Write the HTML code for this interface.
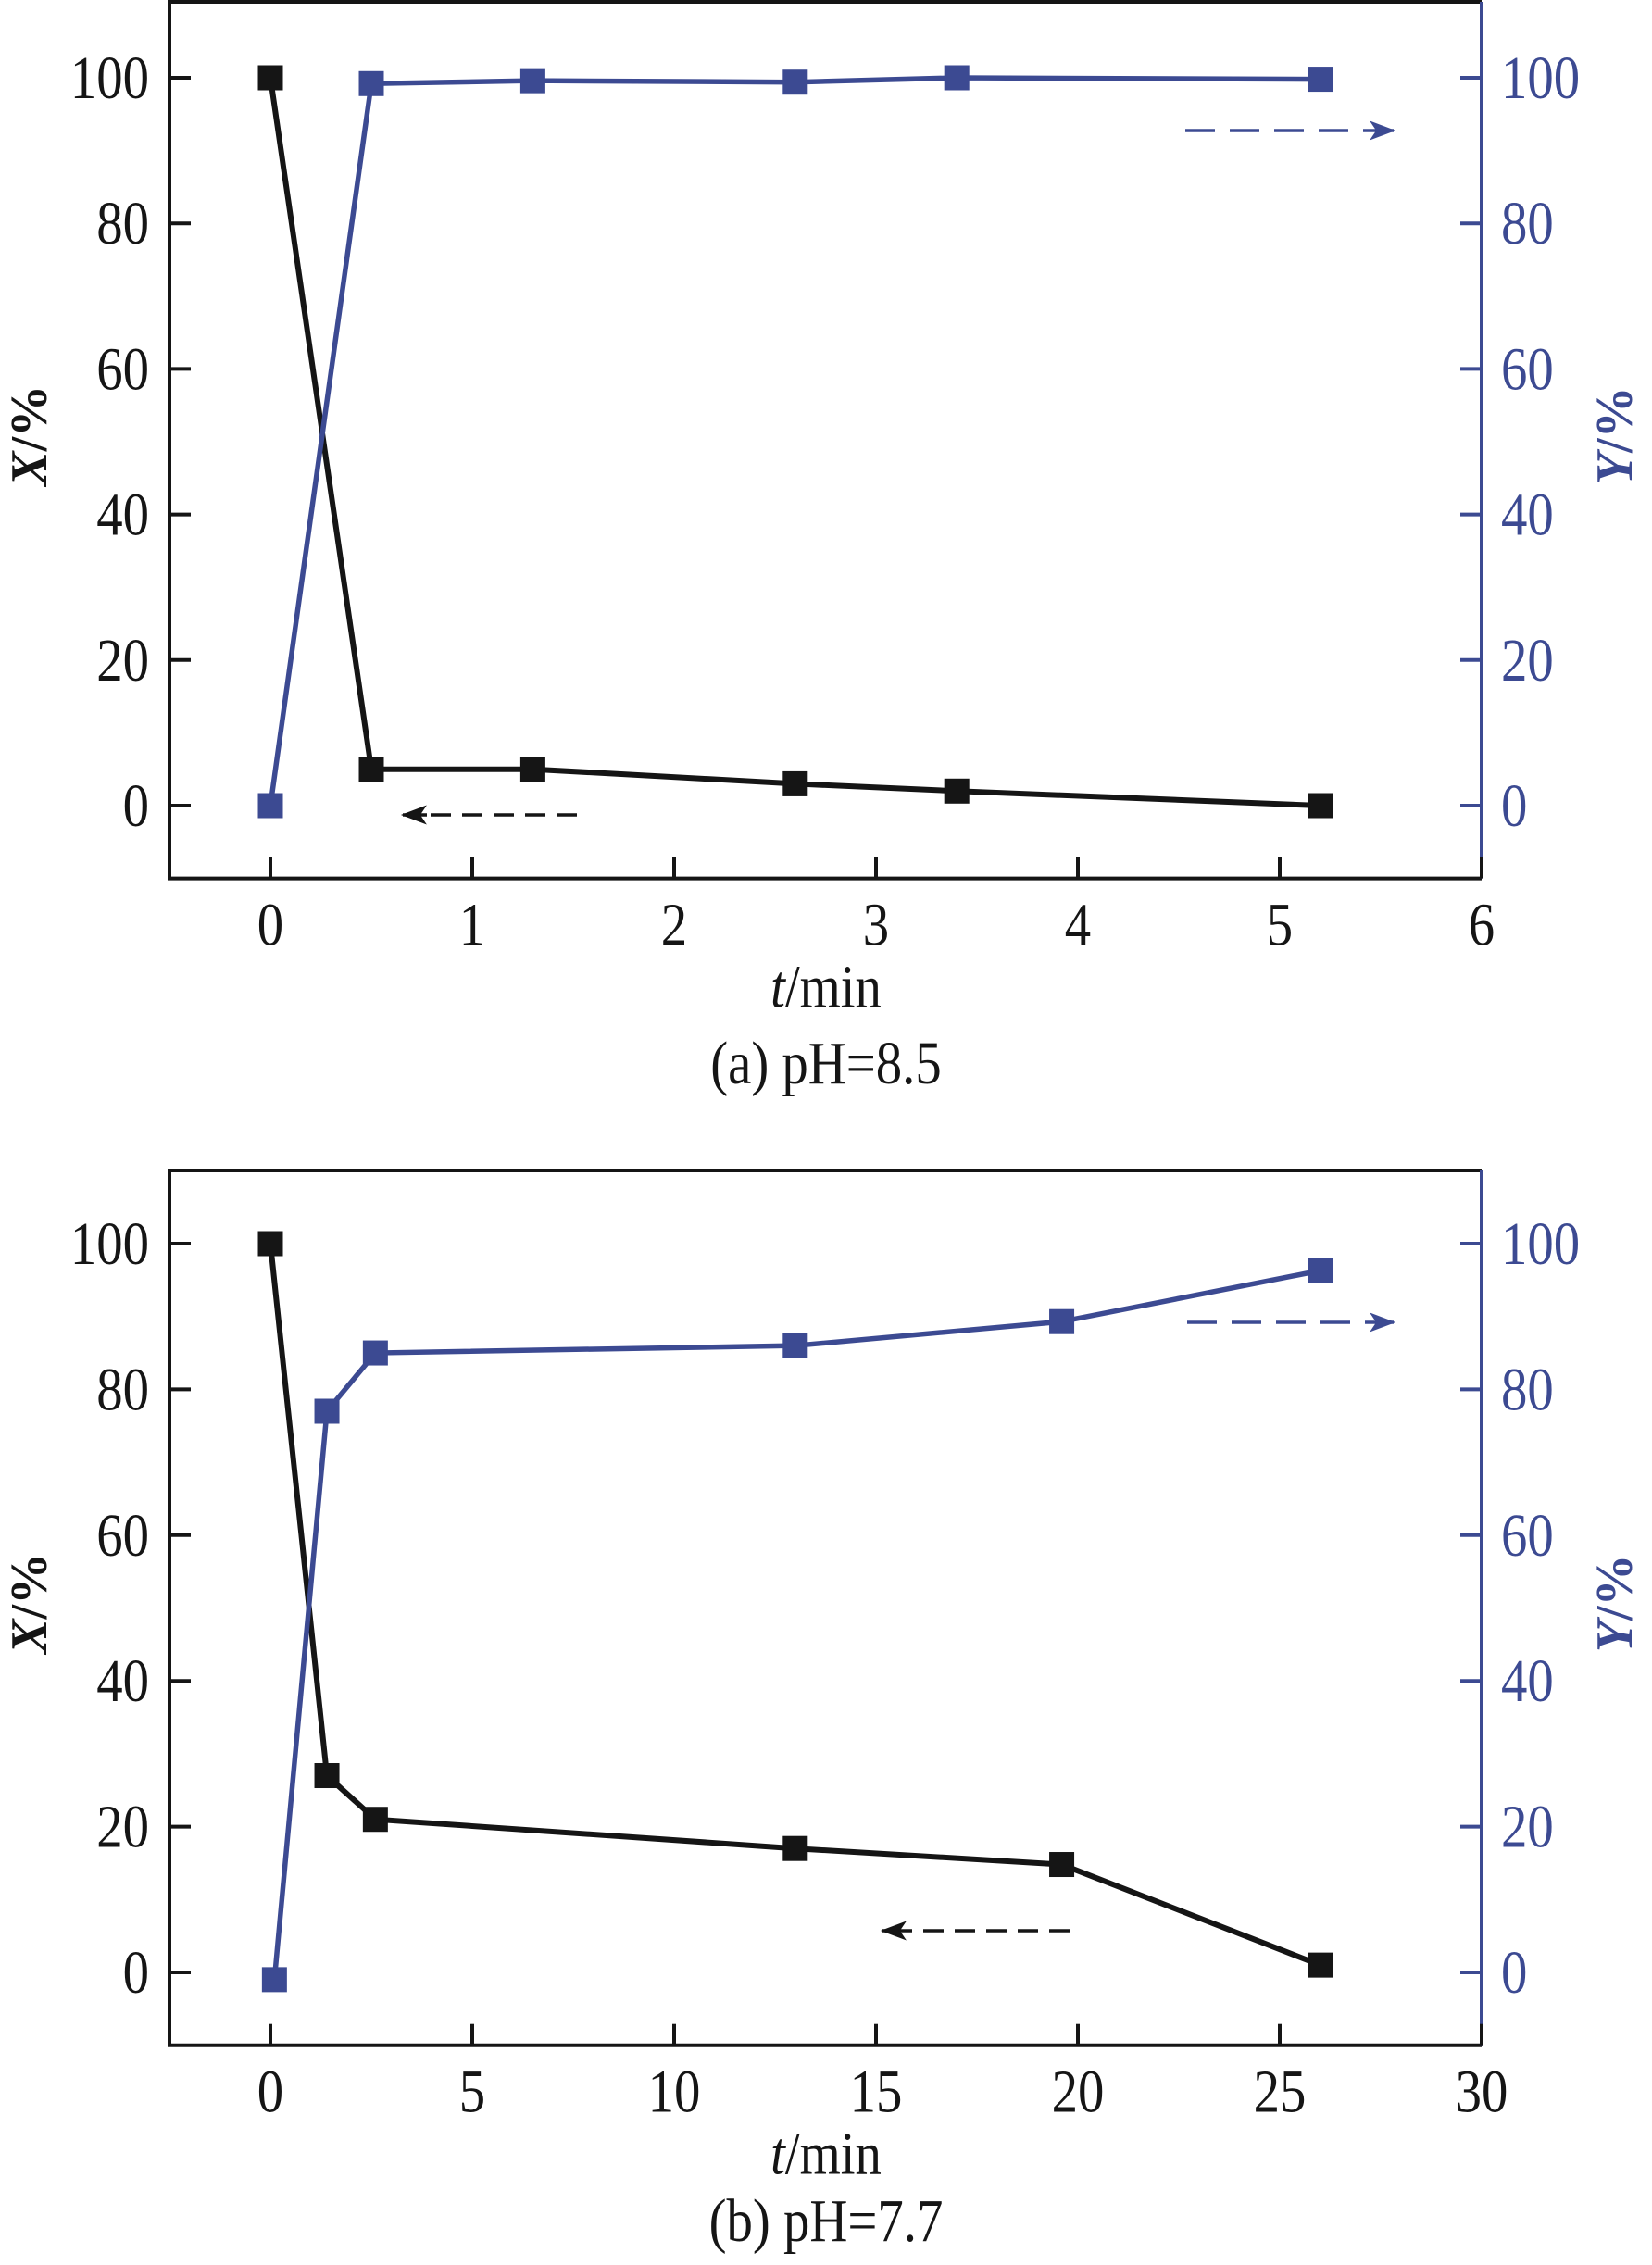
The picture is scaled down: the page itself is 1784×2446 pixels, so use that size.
<!DOCTYPE html>
<html><head><meta charset="utf-8">
<style>
html,body{margin:0;padding:0;background:#fff;}
svg{display:block;font-family:"Liberation Serif",serif;}
</style></head>
<body>
<svg id="chart" width="1784" height="2446" viewBox="0 0 1784 2446" xmlns="http://www.w3.org/2000/svg">
</svg>
<script>
// ---- data panel (a) ----
const tA = [0, 0.5, 1.3, 2.6, 3.4, 5.2];
const xA = [100, 5, 5, 3, 2, 0];
const tAy = [0, 0.5, 1.3, 2.6, 3.4, 5.2];
const yA = [0, 99.2, 99.6, 99.4, 100, 99.8];
const xTicksA = [0, 1, 2, 3, 4, 5, 6];
// ---- data panel (b) ----
const tB = [0, 1.4, 2.6, 13, 19.6, 26];
const xB = [100, 27, 21, 17, 14.8, 1];
const tBy = [0.1, 1.4, 2.6, 13, 19.6, 26];
const yB = [-1, 77, 85, 86, 89.3, 96.3];
const xTicksB = [0, 5, 10, 15, 20, 25, 30];
const yTicks = [0, 20, 40, 60, 80, 100];

const NS = "http://www.w3.org/2000/svg";
const svg = document.getElementById('chart');
const BLUE = "#3c4a92", BLK = "#151515";
function el(tag, attrs, parent) {
  const e = document.createElementNS(NS, tag);
  for (const k in attrs) e.setAttribute(k, attrs[k]);
  (parent || svg).appendChild(e);
  return e;
}
const FS = 66, SX = 0.86;
function sxT(x) { return `matrix(${SX},0,0,1,${x*(1-SX)},0)`; }

function arrow(g, x1, x2, y, color, dash) {
  const dir = x2 > x1 ? 1 : -1;
  const head = 26;
  el('line', {x1: x1, y1: y, x2: x2 - dir * head, y2: y, stroke: color, 'stroke-width': 3.5, 'stroke-dasharray': dash}, g);
  el('line', {x1: x2 - dir * head, y1: y, x2: x2, y2: y, stroke: color, 'stroke-width': 3.5}, g);
  el('path', {d: `M${x2 - dir*24},${y-9} L${x2},${y} L${x2 - dir*24},${y+9} L${x2 - dir*18},${y} Z`, fill: color, stroke: color, 'stroke-width': 1.5}, g);
}

function panel(cfg) {
  const g = el('g', {});
  
  
  const L = 183, R = 1600;
  const x0px = 292;
  const sx = v => x0px + (v / cfg.xmax) * (R - x0px);
  const sy = v => cfg.y0 - v * cfg.ky;
  const T = cfg.top, B = sy(-10);
  let ln = el('path', {d: `M${R},${T} L${L},${T} L${L},${B} L${R},${B}`, fill: 'none', stroke: BLK, 'stroke-width': 4}, g);
  
  
  ln = el('line', {x1: R, y1: T, x2: R, y2: B, stroke: BLUE, 'stroke-width': 4}, g);
  
  
  yTicks.forEach(v => {
    const y = sy(v);
    el('line', {x1: L, y1: y, x2: L + 23, y2: y, stroke: BLK, 'stroke-width': 4}, g);
    el('line', {x1: R, y1: y, x2: R - 23, y2: y, stroke: BLUE, 'stroke-width': 4}, g);
    const t1 = el('text', {x: 161, y: y + 22, 'font-size': FS, 'text-anchor': 'end', fill: BLK}, g);
    t1.setAttribute('transform', sxT(161));
    t1.textContent = v;
    
    
    const t2 = el('text', {x: 1621, y: y + 22, 'font-size': FS, 'text-anchor': 'start', fill: BLUE}, g);
    t2.setAttribute('transform', sxT(1621));
    t2.textContent = v;
    
    
  });
  cfg.xticks.forEach(v => {
    const x = sx(v);
    el('line', {x1: x, y1: B, x2: x, y2: B - 23, stroke: BLK, 'stroke-width': 4}, g);
    const t = el('text', {x: x, y: B + 72, 'font-size': FS, 'text-anchor': 'middle', fill: BLK}, g);
    t.setAttribute('transform', sxT(x));
    t.textContent = v;
    
    
  });
  let d = cfg.t.map((v, i) => (i ? 'L' : 'M') + sx(v) + ',' + sy(cfg.x[i])).join(' ');
  ln = el('path', {d, fill: 'none', stroke: BLK, 'stroke-width': 6}, g);
  
  
  d = cfg.ty.map((v, i) => (i ? 'L' : 'M') + sx(v) + ',' + sy(cfg.y[i])).join(' ');
  ln = el('path', {d, fill: 'none', stroke: BLUE, 'stroke-width': 5.5}, g);
  
  
  cfg.t.forEach((v, i) => {
    const r = el('rect', {x: sx(v) - 13.5, y: sy(cfg.x[i]) - 13.5, width: 27, height: 27, fill: BLK}, g);
    
    
  });
  cfg.ty.forEach((v, i) => {
    const r = el('rect', {x: sx(v) - 13.5, y: sy(cfg.y[i]) - 13.5, width: 27, height: 27, fill: BLUE}, g);
    
    
  });
  let ag = el('g', {}, g);
  
  
  arrow(ag, cfg.bArrow[0], cfg.bArrow[1], cfg.bArrow[2], BLK, '22,12');
  ag = el('g', {}, g);
  
  
  arrow(ag, cfg.uArrow[0], cfg.uArrow[1], cfg.uArrow[2], BLUE, '32,16');
  const mid = (T + B) / 2 - 5;
  let t = el('text', {x: 0, y: 0, 'font-size': 56, 'text-anchor': 'middle', fill: BLK, 'font-weight': 'bold', transform: `translate(50,${mid}) rotate(-90)`}, g);
  t.innerHTML = '<tspan font-style="italic">X</tspan>/%';
  
  
  t = el('text', {x: 0, y: 0, 'font-size': 56, 'text-anchor': 'middle', fill: BLUE, 'font-weight': 'bold', transform: `translate(1762,${mid}) rotate(-90)`}, g);
  t.innerHTML = '<tspan font-style="italic">Y</tspan>/%';
  
  
  t = el('text', {x: 892, y: B + 139, 'font-size': FS, 'text-anchor': 'middle', fill: BLK}, g);
  t.setAttribute('transform', sxT(892));
  t.innerHTML = '<tspan font-style="italic">t</tspan>/min';
  
  
  t = el('text', {x: 892, y: cfg.capY, 'font-size': FS, 'text-anchor': 'middle', fill: BLK}, g);
  t.setAttribute('transform', sxT(892));
  t.textContent = cfg.caption;
  
  
}

panel({name: 'panel-a', t: tA, x: xA, ty: tAy, y: yA, xticks: xTicksA, xmax: 6,
  y0: 870, ky: 7.86, top: 2, bArrow: [623, 435, 880], uArrow: [1280, 1505, 141], capY: 1170, caption: '(a) pH=8.5'});
panel({name: 'panel-b', t: tB, x: xB, ty: tBy, y: yB, xticks: xTicksB, xmax: 30,
  y0: 2130, ky: 7.87, top: 1264, bArrow: [1155, 953, 2085], uArrow: [1282, 1505, 1428], capY: 2420, caption: '(b) pH=7.7'});
</script>
</body></html>
